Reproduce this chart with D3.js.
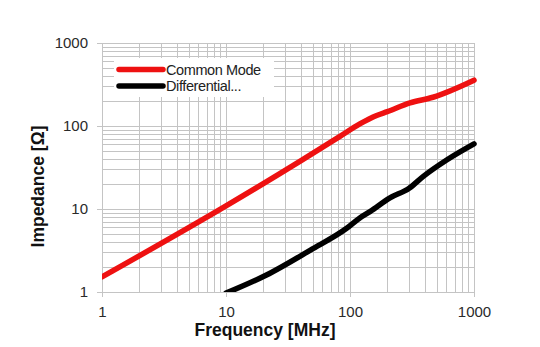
<!DOCTYPE html>
<html><head><meta charset="utf-8">
<script src="https://cdn.jsdelivr.net/npm/d3@7"></script>
<style>body{margin:0;background:#fff}svg{display:block}</style>
</head><body>
<script>
const seriesNames = ["Common Mode", "Differential..."];
const seriesColors = ["#ee1111", "#000000"];
const cmFreq = [1, 10, 40, 83, 120, 164, 200, 305, 467, 1000];
const cmVal  = [1.52, 10.9, 38, 75, 106, 134, 149, 190, 222, 356];
const dmFreq = [10, 21, 48, 94, 120, 145, 210, 300, 388, 602, 1000];
const dmVal  = [0.97, 1.59, 3.2, 5.85, 7.8, 9.3, 13.6, 17.8, 24.6, 39, 61];
const xTicks = [1, 10, 100, 1000];
const yTicks = [1, 10, 100, 1000];

const W = 540, H = 347;
const m = {l: 102, r: 66, t: 43, b: 55};
const svg = d3.select("body").append("svg").attr("width", W).attr("height", H);
const x = d3.scaleLog().domain([1, 1000]).range([m.l, W - m.r]);
const y = d3.scaleLog().domain([1, 1000]).range([H - m.b, m.t]);

const minor = [];
for (let d = 1; d < 1000; d *= 10) for (let k = 1; k <= 10; k++) minor.push(d * k);
const grid = svg.append("g").attr("stroke", "#c4c4c4").attr("stroke-width", 1);
grid.selectAll(".vx").data(minor).join("line")
  .attr("x1", d => Math.round(x(d)) + 0.5).attr("x2", d => Math.round(x(d)) + 0.5)
  .attr("y1", m.t).attr("y2", H - m.b);
grid.selectAll(".hy").data(minor).join("line")
  .attr("y1", d => Math.round(y(d)) + 0.5).attr("y2", d => Math.round(y(d)) + 0.5)
  .attr("x1", m.l).attr("x2", W - m.r);

const xa = svg.append("g").attr("transform", `translate(0,${H - m.b})`)
  .call(d3.axisBottom(x).tickValues(xTicks).tickFormat(d3.format("d")).tickSize(5).tickPadding(9));
const ya = svg.append("g").attr("transform", `translate(${m.l},0)`)
  .call(d3.axisLeft(y).tickValues(yTicks).tickFormat(d3.format("d")).tickSize(5).tickPadding(9));
[xa, ya].forEach(a => {
  a.select(".domain").attr("stroke", "#c4c4c4");
  a.selectAll(".tick line").attr("stroke", "#c4c4c4");
  a.selectAll(".tick text").attr("font-family", "Liberation Sans, Arial, sans-serif")
    .attr("font-size", 15).attr("fill", "#2a2a2a");
});

svg.append("clipPath").attr("id", "clip").append("rect")
  .attr("x", m.l).attr("y", m.t - 5).attr("width", W - m.l - m.r + 5).attr("height", H - m.t - m.b + 5);

const line = d3.line().x(d => x(d[0])).y(d => y(d[1])).curve(d3.curveMonotoneX);
const series = [d3.zip(cmFreq, cmVal), d3.zip(dmFreq, dmVal)];
svg.append("g").attr("clip-path", "url(#clip)").selectAll("path").data(series).join("path")
  .attr("d", line).attr("fill", "none").attr("stroke", (d, i) => seriesColors[i])
  .attr("stroke-width", 5.5).attr("stroke-linecap", "round").attr("stroke-linejoin", "round");

const lg = svg.append("g");
lg.append("rect").attr("x", 114).attr("y", 58).attr("width", 160).attr("height", 39).attr("fill", "#fff");
seriesNames.forEach((n, i) => {
  const yy = 69.5 + i * 16.5;
  lg.append("line").attr("x1", 119).attr("x2", 163).attr("y1", yy).attr("y2", yy)
    .attr("stroke", seriesColors[i]).attr("stroke-width", 5.5).attr("stroke-linecap", "round");
  lg.append("text").attr("x", 166).attr("y", yy + 5).text(n)
    .attr("font-family", "Liberation Sans, Arial, sans-serif").attr("font-size", 14.5)
    .attr("fill", "#222").attr("letter-spacing", -0.4);
});

svg.append("text").attr("x", 265).attr("y", 336).attr("text-anchor", "middle")
  .attr("font-family", "Liberation Sans, Arial, sans-serif").attr("font-weight", "bold")
  .attr("font-size", 17.5).attr("fill", "#111").text("Frequency [MHz]");
svg.append("text").attr("transform", "translate(44,186.5) rotate(-90)").attr("text-anchor", "middle")
  .attr("font-family", "Liberation Sans, Arial, sans-serif").attr("font-weight", "bold")
  .attr("font-size", 17.5).attr("fill", "#111").text("Impedance [Ω]");
</script>
</body></html>
